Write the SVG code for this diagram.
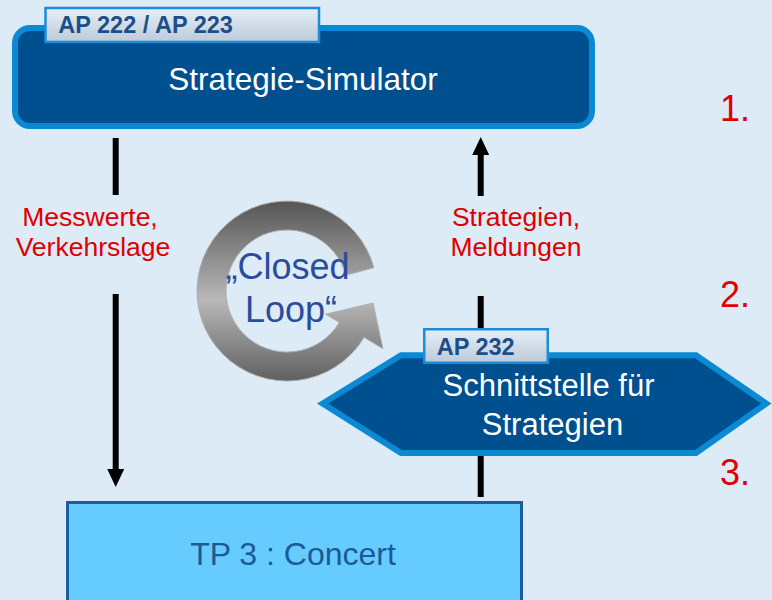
<svg xmlns="http://www.w3.org/2000/svg" width="772" height="600" viewBox="0 0 772 600">
<style>
text{font-family:"Liberation Sans",Arial,sans-serif}
.white{fill:#fff;font-size:31.5px}
.tag{fill:url(#tagGrad);stroke:#1a8cd8;stroke-width:2.5}
.tagText{fill:#1b4f8a;font-size:23.5px;font-weight:bold}
.red{fill:#dd0000;font-size:26.5px}
.num{fill:#e00000;font-size:36px}
.dark{fill:#00508f;stroke:#0b8ad3;stroke-width:6}
.conn{stroke:#000;stroke-width:6;fill:none}
.loopText{fill:#2b4c9b;font-size:36px}
</style>
<defs>
<linearGradient id="tagGrad" x1="0" y1="0" x2="0" y2="1">
<stop offset="0" stop-color="#e6eff8"/>
<stop offset="1" stop-color="#bccad8"/>
</linearGradient>
<linearGradient id="ringGrad" x1="0" y1="0" x2="0" y2="1">
<stop offset="0" stop-color="#555"/>
<stop offset="0.55" stop-color="#b8b8b8"/>
<stop offset="1" stop-color="#606060"/>
</linearGradient>
<marker id="arrow" markerUnits="userSpaceOnUse" markerWidth="18" markerHeight="17" viewBox="0 0 18 17" refX="2" refY="8.5" orient="auto">
<path d="M0,0 L18,8.5 L0,17 z" fill="#000"/>
</marker>
</defs>
<rect width="772" height="600" fill="#ddebf7"/>

<g id="connectors">
<line class="conn" x1="115.7" y1="138" x2="115.7" y2="195"/>
<line class="conn" x1="115.7" y1="294" x2="115.7" y2="471" marker-end="url(#arrow)"/>
<line class="conn" x1="480.7" y1="196" x2="480.7" y2="153" marker-end="url(#arrow)"/>
<line class="conn" x1="480.7" y1="296" x2="480.7" y2="497"/>
<text class="red" x="90" y="226" text-anchor="middle">Messwerte,</text>
<text class="red" x="93" y="256" text-anchor="middle">Verkehrslage</text>
<text class="red" x="516" y="226" text-anchor="middle">Strategien,</text>
<text class="red" x="516" y="256" text-anchor="middle">Meldungen</text>
</g>

<g id="closed-loop">
<path d="M373.9,267.7 A90,90 0 1 0 364.1,337.4 L383,348.7 L373,303 L325.6,314.2 L339.3,322.4 A61,61 0 1 1 345.9,275.2 Z" fill="url(#ringGrad)" stroke="#b0b0b0" stroke-width="1"/>
<text class="loopText" x="287.5" y="279.3" text-anchor="middle">„Closed</text>
<text class="loopText" x="291" y="321.7" text-anchor="middle">Loop“</text>
</g>

<g id="strategie-simulator">
<rect class="dark" x="15" y="28" width="577" height="98" rx="15"/>
<text class="white" x="303" y="90" text-anchor="middle">Strategie-Simulator</text>
<rect class="tag" x="45.5" y="8" width="273.5" height="34"/>
<text class="tagText" x="58.3" y="33.3">AP 222 / AP 223</text>
</g>

<g id="schnittstelle">
<polygon class="dark" points="322.7,403.5 401,355.3 696,355.3 766.3,403.5 696,453 401,453"/>
<rect class="tag" x="424.25" y="329.25" width="123.5" height="33.5"/>
<text class="tagText" x="436.7" y="355">AP 232</text>
<text class="white" x="548.5" y="396" text-anchor="middle" style="font-size:31px">Schnittstelle für</text>
<text class="white" x="552.5" y="435" text-anchor="middle" style="font-size:31px">Strategien</text>
</g>

<g id="concert">
<rect x="67.5" y="502.5" width="454" height="120" fill="#66ccff" stroke="#1b5e9e" stroke-width="3"/>
<text x="293" y="565" text-anchor="middle" style="font-size:32px;fill:#1a5a96">TP 3 : Concert</text>
</g>

<g id="steps">
<text class="num" x="720" y="121">1.</text>
<text class="num" x="720" y="307">2.</text>
<text class="num" x="720" y="485">3.</text>
</g>
</svg>
